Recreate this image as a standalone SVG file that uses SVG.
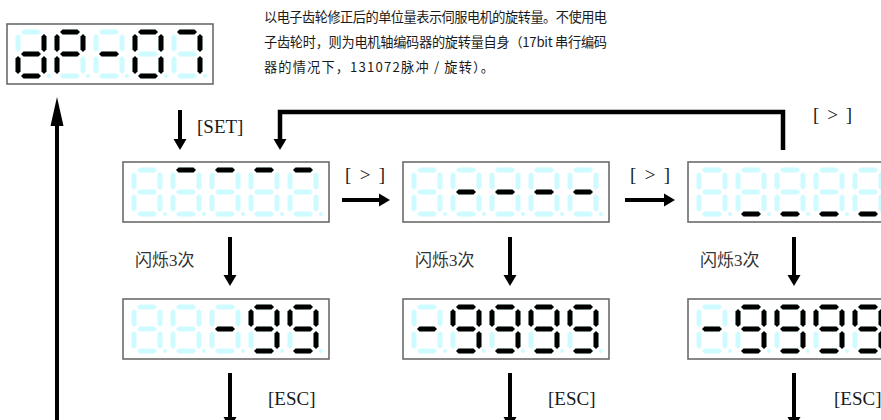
<svg xmlns="http://www.w3.org/2000/svg" xmlns:xlink="http://www.w3.org/1999/xlink" width="881" height="420" viewBox="0 0 881 420">
<style>
.box{fill:#fff;stroke:#6b6b6b;stroke-width:1.6}
.off{fill:#cdfbff}
.on{fill:#000}
.cn{font-family:"Noto Sans CJK SC","Noto Sans",sans-serif;font-size:13.2px;fill:#1a1a1a}
.lb{font-family:"Liberation Serif","Noto Sans CJK SC",serif;font-size:19px;fill:#1a1a1a}
.lc{font-family:"Liberation Serif","Noto Sans CJK SC",serif;font-size:17px;fill:#333}
.ln{fill:none;stroke:#000;stroke-width:4}
.hd{fill:#000}
</style>
<defs>
<path id="sh" d="M0 0l2.5-2.5h15l2.5 2.5-2.5 2.5h-15z"/>
<path id="sv" d="M0 0l2.5 2.5v13l-2.5 2.5-2.5-2.5v-13z"/>
<g id="dg" class="off">
<use href="#sh" x="5" y="8"/><use href="#sh" x="5" y="30"/><use href="#sh" x="5" y="52"/>
<use href="#sv" x="2" y="10"/><use href="#sv" x="2" y="32"/>
<use href="#sv" x="28" y="10"/><use href="#sv" x="28" y="32"/>
<circle cx="33" cy="52" r="2"/>
</g>
<g id="disp">
<rect class="box" x="0" y="0" width="206" height="60"/>
<use href="#dg" x="9"/><use href="#dg" x="48"/><use href="#dg" x="87"/><use href="#dg" x="126"/><use href="#dg" x="165"/>
</g>
<g id="nine">
<use href="#sh" x="5" y="8"/><use href="#sv" x="28" y="10"/><use href="#sv" x="28" y="32"/>
<use href="#sh" x="5" y="52"/><use href="#sv" x="2" y="10"/><use href="#sh" x="5" y="30"/>
</g>
</defs>
<rect width="881" height="420" fill="#fff"/>

<g id="desc">
<text class="cn" x="264" y="22" textLength="343" lengthAdjust="spacing">以电子齿轮修正后的单位量表示伺服电机的旋转量。不使用电</text>
<text class="cn" x="264" y="47" textLength="343" lengthAdjust="spacing">子齿轮时，则为电机轴编码器的旋转量自身（17bit 串行编码</text>
<text class="cn" x="264" y="72" textLength="230" lengthAdjust="spacing">器的情况下，131072脉冲 / 旋转）。</text>
</g>

<g id="disp-dp07" transform="translate(7,24)">
<use href="#disp"/>
<g class="on">
<use href="#sv" x="37" y="10"/><use href="#sv" x="37" y="32"/><use href="#sh" x="14" y="52"/><use href="#sv" x="11" y="32"/><use href="#sh" x="14" y="30"/>
<use href="#sh" x="53" y="8"/><use href="#sv" x="76" y="10"/><use href="#sv" x="50" y="10"/><use href="#sh" x="53" y="30"/><use href="#sv" x="50" y="32"/>
<use href="#sh" x="92" y="30"/>
<use href="#sh" x="131" y="8"/><use href="#sv" x="154" y="10"/><use href="#sv" x="154" y="32"/><use href="#sh" x="131" y="52"/><use href="#sv" x="128" y="32"/><use href="#sv" x="128" y="10"/>
<use href="#sh" x="170" y="8"/><use href="#sv" x="193" y="10"/><use href="#sv" x="193" y="32"/>
</g>
</g>

<g id="r1-top" transform="translate(123,162)">
<use href="#disp"/>
<g class="on"><use href="#sh" x="53" y="8"/><use href="#sh" x="92" y="8"/><use href="#sh" x="131" y="8"/><use href="#sh" x="170" y="8"/></g>
</g>
<g id="r1-mid" transform="translate(403,162)">
<use href="#disp"/>
<g class="on"><use href="#sh" x="53" y="30"/><use href="#sh" x="92" y="30"/><use href="#sh" x="131" y="30"/><use href="#sh" x="170" y="30"/></g>
</g>
<g id="r1-bot" transform="translate(688,162)">
<use href="#disp"/>
<g class="on"><use href="#sh" x="53" y="52"/><use href="#sh" x="92" y="52"/><use href="#sh" x="131" y="52"/><use href="#sh" x="170" y="52"/></g>
</g>

<g id="r2-99" transform="translate(123,299)">
<use href="#disp"/>
<g class="on"><use href="#sh" x="92" y="30"/><use href="#nine" x="126"/><use href="#nine" x="165"/></g>
</g>
<g id="r2-9999a" transform="translate(403,299)">
<use href="#disp"/>
<g class="on"><use href="#sh" x="14" y="30"/><use href="#nine" x="48"/><use href="#nine" x="87"/><use href="#nine" x="126"/><use href="#nine" x="165"/></g>
</g>
<g id="r2-9999b" transform="translate(688,299)">
<use href="#disp"/>
<g class="on"><use href="#sh" x="14" y="30"/><use href="#nine" x="48"/><use href="#nine" x="87"/><use href="#nine" x="126"/><use href="#nine" x="165"/></g>
</g>

<g id="connectors">
<path class="ln" d="M57 420V124"/><path class="hd" d="M50.5 126L57 97L63.5 126z"/>
<path class="ln" d="M180 110V140"/><path class="hd" d="M173.5 139H186.5L180 150z"/>
<path class="ln" style="stroke-width:4.5" d="M783 150V112H280V140"/><path class="hd" d="M273.5 139H286.5L280 150z"/>
<path class="ln" d="M342 200H380"/><path class="hd" d="M379 193.5V206.5L390 200z"/>
<path class="ln" d="M625 200H665"/><path class="hd" d="M664 193.5V206.5L675 200z"/>
<path class="ln" d="M230 237V276"/><path class="hd" d="M223.5 275H236.5L230 286z"/>
<path class="ln" d="M510 237V276"/><path class="hd" d="M503.5 275H516.5L510 286z"/>
<path class="ln" d="M794 237V276"/><path class="hd" d="M787.5 275H800.5L794 286z"/>
<path class="ln" d="M230 373V418"/><path class="hd" d="M223.5 417H236.5L230 428z"/>
<path class="ln" d="M510 373V418"/><path class="hd" d="M503.5 417H516.5L510 428z"/>
<path class="ln" d="M794 373V418"/><path class="hd" d="M787.5 417H800.5L794 428z"/>
</g>

<g id="labels">
<text class="lb" x="197" y="133">[SET]</text>
<text class="lb" x="813" y="121" textLength="39" lengthAdjust="spacing" xml:space="preserve">[ &gt; ]</text>
<text class="lb" x="345" y="181" textLength="40" lengthAdjust="spacing" xml:space="preserve">[ &gt; ]</text>
<text class="lb" x="630" y="181" textLength="40" lengthAdjust="spacing" xml:space="preserve">[ &gt; ]</text>
<text class="lc" x="135" y="266">闪烁3次</text>
<text class="lc" x="415" y="266">闪烁3次</text>
<text class="lc" x="700" y="266">闪烁3次</text>
<text class="lb" x="268" y="405">[ESC]</text>
<text class="lb" x="548" y="405">[ESC]</text>
<text class="lb" x="834" y="405">[ESC]</text>
</g>
</svg>
